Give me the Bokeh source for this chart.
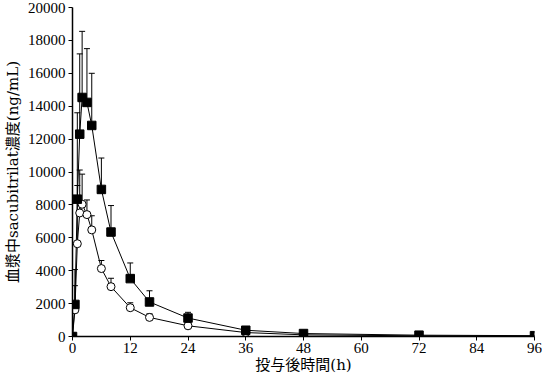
from bokeh.plotting import figure
from bokeh.models import Range1d, FixedTicker, ColumnDataSource, Whisker, TeeHead
from bokeh.embed import file_html
from bokeh.resources import INLINE

# time after dosing (h)
hours = [0, 0.5, 1, 1.5, 2, 3, 4, 6, 8, 12, 16, 24, 36, 48, 72, 96]
# filled squares: mean and mean+SD (ng/mL)
filled_mean = [0, 1950, 8350, 12300, 14530, 14230, 12830, 8940, 6350, 3520, 2100, 1120, 380, 180, 80, 50]
filled_upper = [0, 4070, 13600, 17180, 18550, 17500, 16000, 10850, 7960, 4470, 2780, 1470, 480, 240, 90, 55]
# open circles: mean and mean+SD (ng/mL)
open_mean = [0, 1620, 5640, 7510, 8040, 7410, 6480, 4130, 3030, 1750, 1160, 650, 240, 100, 40, 20]
open_upper = [0, 3090, 9180, 10120, 9870, 8300, 7340, 4620, 3540, 2050, 1380, 810, 300, 130, 50, 25]

x_ticks = [0, 12, 24, 36, 48, 60, 72, 84, 96]
y_ticks = [0, 2000, 4000, 6000, 8000, 10000, 12000, 14000, 16000, 18000, 20000]

x_label = "投与後時間(h)"
y_label = "血漿中sacubitrilat濃度(ng/mL)"

TICK_FONT = "Liberation Serif"
LABEL_FONT = "DejaVu Serif, Noto Sans CJK JP"

p = figure(width=542, height=376, output_backend="svg", toolbar_location=None,
           x_range=Range1d(x_ticks[0], x_ticks[-1]), y_range=Range1d(y_ticks[0], y_ticks[-1]),
           min_border_left=0, min_border_right=8, min_border_top=7, min_border_bottom=0)
p.outline_line_color = None
p.xgrid.visible = False
p.ygrid.visible = False
p.background_fill_color = "white"
p.border_fill_color = "white"

for ax in (p.xaxis[0], p.yaxis[0]):
    ax.axis_line_color = "black"
    ax.axis_line_width = 1.5
    ax.major_tick_line_color = "black"
    ax.major_tick_line_width = 1
    ax.major_tick_in = 0
    ax.major_tick_out = 4
    ax.minor_tick_line_color = None
    ax.major_label_text_font = TICK_FONT
    ax.major_label_text_font_size = "15px"
    ax.major_label_text_color = "black"
    ax.axis_label_text_font = LABEL_FONT
    ax.axis_label_text_font_size = "15px"
    ax.axis_label_text_font_style = "normal"
    ax.axis_label_text_color = "black"
    ax.major_label_standoff = 3

p.xaxis[0].major_label_standoff = 2
p.xaxis[0].axis_label_standoff = 0
p.yaxis[0].axis_label_standoff = 3

p.xaxis[0].ticker = FixedTicker(ticks=x_ticks)
p.yaxis[0].ticker = FixedTicker(ticks=y_ticks)
p.xaxis[0].axis_label = x_label
p.yaxis[0].axis_label = y_label

src_f = ColumnDataSource(dict(t=hours, mean=filled_mean, upper=filled_upper))
src_o = ColumnDataSource(dict(t=hours, mean=open_mean, upper=open_upper))

for src in (src_o, src_f):
    w = Whisker(source=src, base="t", lower="mean", upper="upper",
                line_color="black", line_width=1, level="underlay",
                lower_head=None,
                upper_head=TeeHead(size=6, line_color="black", line_width=1))
    p.add_layout(w)

p.line("t", "mean", source=src_o, line_color="black", line_width=1)
p.line("t", "mean", source=src_f, line_color="black", line_width=1)
p.scatter("t", "mean", source=src_o, marker="circle", size=8,
          line_color="black", fill_color="white", line_width=1)
p.scatter("t", "mean", source=src_f, marker="square", size=8.5,
          line_color="black", fill_color="black", line_width=1)

open("out.html", "w").write(file_html(p, INLINE))
